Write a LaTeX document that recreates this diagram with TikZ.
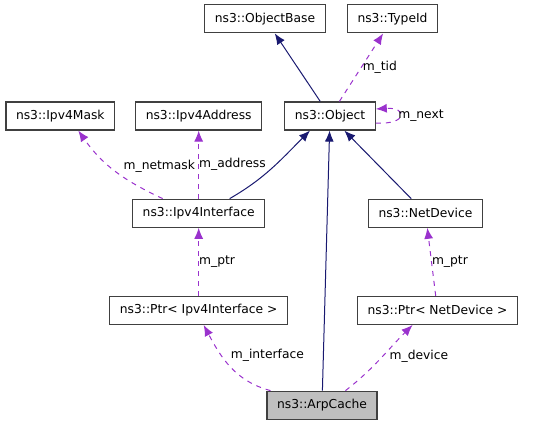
\documentclass[tikz,border=0pt]{standalone}
\usepackage{fontspec}
\setmainfont{DejaVu Sans}
\usetikzlibrary{arrows.meta, positioning}
\definecolor{navyline}{RGB}{25,25,112}
\definecolor{purpleline}{RGB}{154,50,205}
\definecolor{boxline}{RGB}{64,64,64}
\definecolor{hlgray}{RGB}{191,191,191}

\begin{document}
\begin{tikzpicture}[
        x=1pt, y=-1pt,
        node distance=68pt,
        box/.style={rectangle, draw=boxline, line width=1.2pt, minimum height=28pt, inner xsep=10pt, inner ysep=0pt, font=\fontsize{12.3}{14}\selectfont},
        hlbox/.style={box, fill=hlgray},
        inharrow/.style={draw=navyline, line width=1pt, -{Latex[length=11pt,width=9pt]}},
        usearrow/.style={draw=purpleline, line width=1pt, dash pattern=on 5pt off 5pt, -{Latex[length=11pt,width=9pt]}},
        lbl/.style={font=\fontsize{12.3}{14}\selectfont, inner sep=1pt}
    ]
        \useasboundingbox (0,0) rectangle (543,424);

        % Object and its bases
        \node[box] (object) at (330,116) {ns3::Object};
        \node[box, above=68pt of object, xshift=-65pt] (objbase) {ns3::ObjectBase};
        \node[box, above=68pt of object, xshift=62.5pt] (typeid) {ns3::TypeId};

        % Ipv4 side
        \node[box, left=22pt of object] (ipv4addr) {ns3::Ipv4Address};
        \node[box, left=20pt of ipv4addr] (ipv4mask) {ns3::Ipv4Mask};
        \node[box, below=of ipv4addr] (ipv4if) {ns3::Ipv4Interface};
        \node[box, below=of ipv4if] (ptrif) {ns3::Ptr< Ipv4Interface >};

        % Device side
        \node[box, below=of object, xshift=95.5pt] (netdev) {ns3::NetDevice};
        \node[box, below=of netdev, xshift=12pt] (ptrnd) {ns3::Ptr< NetDevice >};

        % The class itself
        \node[hlbox, below=260pt of object, xshift=-8pt] (arpcache) {ns3::ArpCache};

        % Arrows
        \draw[inharrow] (object) -- (objbase);
        \draw[usearrow] (object) -- (typeid) node[lbl, midway, right] {m\_tid};
        \draw[usearrow] ([yshift=-7pt]object.east) .. controls +(32,2) and +(32,-2) .. ([yshift=7pt]object.east)
            node[lbl, right, pos=0.5, xshift=-3pt] {m\_next};
        \draw[inharrow] ([xshift=31pt]ipv4if.north) to[out=30, in=225] ([xshift=-20pt]object.south);
        \draw[usearrow] ([xshift=-36pt]ipv4if.north) to[out=155, in=-55]
            node[lbl, pos=0.3, above right, xshift=-10pt, yshift=9pt] {m\_netmask} ([xshift=18pt]ipv4mask.south);
        \draw[usearrow] (ipv4if) -- (ipv4addr) node[lbl, midway, right, inner xsep=0pt] {m\_address};
        \draw[inharrow] (arpcache) -- (object);
        \draw[inharrow] (netdev) -- (object);
        \draw[usearrow] (ptrif) -- (ipv4if) node[lbl, midway, right, inner xsep=0pt] {m\_ptr};
        \draw[usearrow] (ptrnd) -- (netdev) node[lbl, midway, right, inner xsep=0pt] {m\_ptr};
        \draw[usearrow] ([xshift=4pt]arpcache.north west) to[out=165, in=-62]
            node[lbl, pos=0.45, right, xshift=-4pt, yshift=14pt] {m\_interface} ([xshift=5pt]ptrif.south);
        \draw[usearrow] ([xshift=-32pt]arpcache.north east) to[out=38, in=-135]
            node[lbl, pos=0.5, right, xshift=8pt, yshift=3pt] {m\_device} ([xshift=-25pt]ptrnd.south);
    \end{tikzpicture}
\end{document}
